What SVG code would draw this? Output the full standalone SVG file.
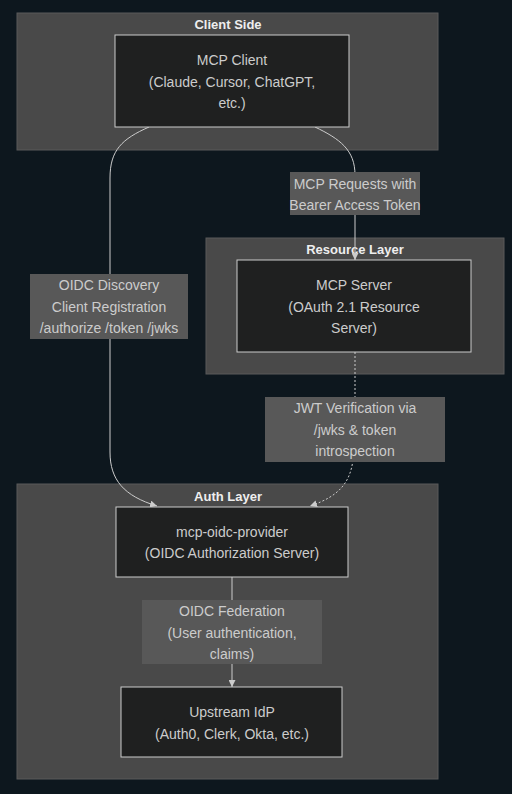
<svg xmlns="http://www.w3.org/2000/svg" width="512" height="794" viewBox="0 0 512 794">
<defs>
<marker id="arr" viewBox="0 0 10 10" refX="10" refY="5" markerWidth="7" markerHeight="7" markerUnits="userSpaceOnUse" orient="auto">
<path d="M0,0 L10,5 L0,10 z" fill="#cccccc"/>
</marker>
<style>
text{font-family:"Liberation Sans",Arial,sans-serif;font-size:14px;fill:#cccccc;text-anchor:middle;dominant-baseline:central}
.title{font-weight:bold;fill:#eeeeee;font-size:13px}
.cluster{fill:#494949;stroke:#5a5a5a;stroke-width:1}
.node{fill:#1f2020;stroke:#cccccc;stroke-width:1}
.lbl{fill:#585858}
.edge{fill:none;stroke:#cccccc;stroke-width:1}
.dash{stroke-dasharray:2,2}
</style>
</defs>
<rect width="512" height="794" fill="#0d171e"/>
<g id="client-side">
<rect class="cluster" x="17" y="13" width="421" height="137"/>
<text class="title" x="228" y="24">Client Side</text>
</g>
<g id="resource-layer">
<rect class="cluster" x="206" y="238" width="298" height="136"/>
<text class="title" x="355" y="249">Resource Layer</text>
</g>
<g id="auth-layer">
<rect class="cluster" x="17" y="484" width="421" height="295"/>
<text class="title" x="228" y="496">Auth Layer</text>
</g>
<g id="connectors">
<path class="edge" d="M149,127 C122,139 110,150 110,178 L110,452 C110,480 124,496 157,506" marker-end="url(#arr)"/>
<path class="edge" d="M315,127 C340,139 355,150 355,175 L355,260" marker-end="url(#arr)"/>
<path class="edge dash" d="M355,352 L355,400 M353,460 C350,482 340,496 310,506" marker-end="url(#arr)"/>
<path class="edge" d="M232,577 L232,687" marker-end="url(#arr)"/>
</g>
<g id="label-requests">
<rect class="lbl" x="290" y="172" width="130" height="43"/>
<text x="355" y="184">MCP Requests with</text>
<text x="355" y="205">Bearer Access Token</text>
</g>
<g id="label-discovery">
<rect class="lbl" x="30" y="274" width="158" height="65"/>
<text x="109" y="285">OIDC Discovery</text>
<text x="109" y="307">Client Registration</text>
<text x="109" y="328">/authorize /token /jwks</text>
</g>
<g id="label-jwt">
<rect class="lbl" x="265" y="397" width="180" height="65"/>
<text x="355" y="408">JWT Verification via</text>
<text x="355" y="430">/jwks &amp; token</text>
<text x="355" y="451">introspection</text>
</g>
<g id="label-federation">
<rect class="lbl" x="142" y="600" width="180" height="64"/>
<text x="232" y="611">OIDC Federation</text>
<text x="232" y="633">(User authentication,</text>
<text x="232" y="654">claims)</text>
</g>
<g id="mcp-client">
<rect class="node" x="115" y="35" width="234" height="92"/>
<text x="232" y="60">MCP Client</text>
<text x="232" y="82">(Claude, Cursor, ChatGPT,</text>
<text x="232" y="103">etc.)</text>
</g>
<g id="mcp-server">
<rect class="node" x="237" y="260" width="234" height="92"/>
<text x="354" y="285">MCP Server</text>
<text x="354" y="307">(OAuth 2.1 Resource</text>
<text x="354" y="328">Server)</text>
</g>
<g id="oidc-provider">
<rect class="node" x="116" y="507" width="232" height="70"/>
<text x="232" y="532">mcp-oidc-provider</text>
<text x="232" y="553">(OIDC Authorization Server)</text>
</g>
<g id="upstream-idp">
<rect class="node" x="121" y="687" width="221" height="70"/>
<text x="232" y="712">Upstream IdP</text>
<text x="232" y="734">(Auth0, Clerk, Okta, etc.)</text>
</g>
</svg>
